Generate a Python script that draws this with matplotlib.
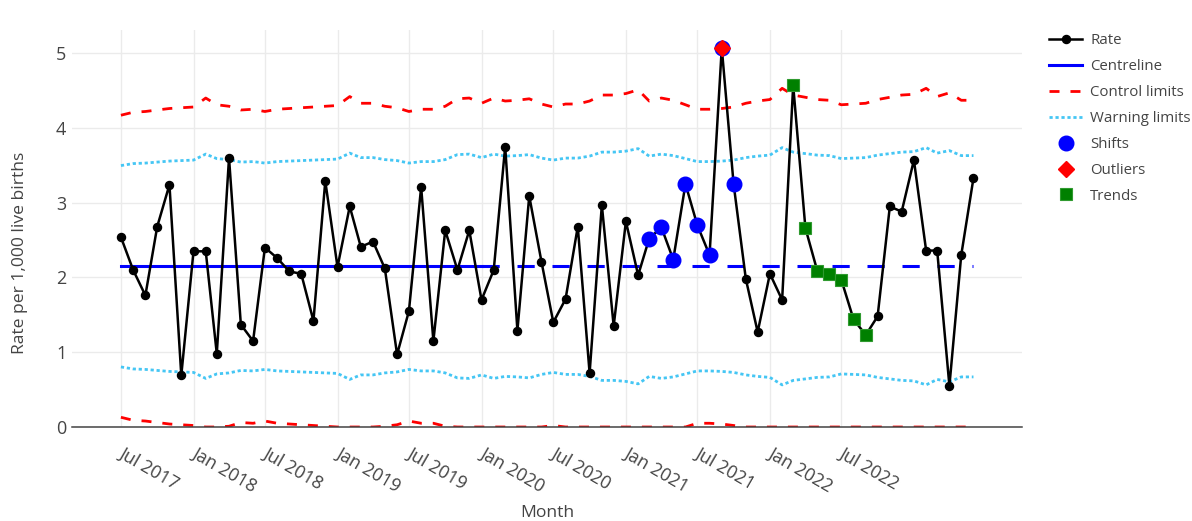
import pandas as pd
import matplotlib
matplotlib.use("Agg")
from matplotlib import pyplot as plt
from matplotlib import dates as mpl_dates
from matplotlib import transforms as mtransforms
from matplotlib.lines import Line2D

plt.rcParams["font.family"] = ["Open Sans", "DejaVu Sans"]
plt.rcParams["lines.scale_dashes"] = False

# monthly rate per 1,000 live births, Jul 2017 - Jun 2023
rate = [2.54, 2.10, 1.76, 2.68, 3.24, 0.69,
        2.35, 2.35, 0.98, 3.60, 1.37, 1.15, 2.40, 2.26, 2.08, 2.05, 1.42, 3.29,
        2.14, 2.95, 2.41, 2.48, 2.12, 0.97, 1.55, 3.21, 1.15, 2.63, 2.10, 2.63,
        1.70, 2.10, 3.75, 1.29, 3.09, 2.21, 1.40, 1.71, 2.68, 0.72, 2.97, 1.35,
        2.75, 2.03, 2.52, 2.67, 2.24, 3.25, 2.70, 2.30, 5.07, 3.25, 1.98, 1.27,
        2.05, 1.70, 4.57, 2.66, 2.09, 2.05, 1.97, 1.44, 1.23, 1.48, 2.95, 2.88,
        3.57, 2.36, 2.36, 0.55, 2.30, 3.33]

# upper control limit for each month (3 sigma)
upper_cl = [4.17, 4.21, 4.22, 4.24, 4.26, 4.27,
            4.28, 4.40, 4.31, 4.29, 4.24, 4.25, 4.22, 4.25, 4.26, 4.27, 4.28, 4.29,
            4.30, 4.42, 4.33, 4.33, 4.29, 4.27, 4.22, 4.25, 4.25, 4.29, 4.39, 4.40,
            4.33, 4.40, 4.36, 4.37, 4.39, 4.32, 4.28, 4.32, 4.32, 4.36, 4.44, 4.44,
            4.46, 4.51, 4.36, 4.40, 4.37, 4.31, 4.25, 4.25, 4.26, 4.28, 4.33, 4.36,
            4.38, 4.53, 4.44, 4.41, 4.38, 4.37, 4.31, 4.32, 4.33, 4.38, 4.41, 4.44,
            4.45, 4.53, 4.42, 4.47, 4.37, 4.37]

centre = 2.15
baseline_end = "2020-01"

shift_months = ["2021-03", "2021-04", "2021-05", "2021-06",
                "2021-07", "2021-08", "2021-09", "2021-10"]
outlier_months = ["2021-09"]
trend_months = ["2022-03", "2022-04", "2022-05", "2022-06",
                "2022-07", "2022-08", "2022-09"]

tick_labels = ["Jul 2017", "Jan 2018", "Jul 2018", "Jan 2019", "Jul 2019", "Jan 2020",
               "Jul 2020", "Jan 2021", "Jul 2021", "Jan 2022", "Jul 2022"]

months = pd.date_range("2017-07-01", periods=len(rate), freq="MS")
df = pd.DataFrame({"rate": rate, "ucl": upper_cl}, index=months)
sigma = (df["ucl"] - centre) / 3
df["uwl"] = centre + 2 * sigma
df["lwl"] = centre - 2 * sigma
df["lcl"] = (centre - 3 * sigma).clip(lower=0)

base_end = pd.Timestamp(baseline_end)
base = df.loc[:base_end]
after = df.loc[base_end:]

shifts = df.loc[pd.to_datetime(shift_months)]
outliers = df.loc[pd.to_datetime(outlier_months)]
trends = df.loc[pd.to_datetime(trend_months)]

text_col = "#444444"
red_dash = (7.2, 7.9)
blue_dash = (12.4, 12.8)
dots = (2.3, 2.0)
cyan = "#45C6F4"

fig = plt.figure(figsize=(11.92, 5.21), dpi=100)
ax = fig.add_axes([72 / 1192, 94 / 521, 950 / 1192, 397 / 521])

ax.plot(df.index, df["ucl"], color="red", lw=2.0, dashes=red_dash, zorder=2)
ax.plot(df.index, df["lcl"], color="red", lw=2.0, dashes=red_dash, zorder=2)
ax.plot(df.index, df["uwl"], color=cyan, lw=2.0, dashes=dots, dash_capstyle="butt", zorder=2)
ax.plot(df.index, df["lwl"], color=cyan, lw=2.0, dashes=dots, dash_capstyle="butt", zorder=2)

ax.plot(base.index, [centre] * len(base), color="blue", lw=2.2, zorder=3)
ax.plot(after.index, [centre] * len(after), color="blue", lw=2.2,
        dashes=blue_dash, dash_capstyle="butt", zorder=3)

ax.plot(df.index, df["rate"], color="black", lw=1.8, marker="o", ms=5.8, zorder=4)

ax.plot(shifts.index, shifts["rate"], ls="none", marker="o", ms=10.5,
        color="blue", zorder=5)
ax.plot(outliers.index, outliers["rate"], ls="none", marker="D", ms=8.5,
        color="red", zorder=6)
ax.plot(trends.index, trends["rate"], ls="none", marker="s", ms=9.3,
        color="green", mec="#2f9a2f", mew=0.8, zorder=7)

ax.set_xlim(pd.Timestamp("2017-02-27"), pd.Timestamp("2023-10-02"))
ax.set_ylim(0, 5.31)

ax.set_xticks(pd.to_datetime(tick_labels, format="%b %Y"))
ax.xaxis.set_major_formatter(mpl_dates.DateFormatter("%b %Y"))
ax.set_yticks([0, 1, 2, 3, 4, 5])
ax.tick_params(axis="both", length=0, labelsize=13, labelcolor=text_col)
ax.tick_params(axis="x", pad=12.5)
ax.tick_params(axis="y", pad=4)
nudge = mtransforms.ScaledTranslation(4 / 100, 0, fig.dpi_scale_trans)
for lab in ax.get_xticklabels():
    lab.set_rotation(-30)
    lab.set_ha("left")
    lab.set_va("top")
    lab.set_rotation_mode("anchor")
    lab.set_transform(lab.get_transform() + nudge)

ax.grid(True, color="#ebebeb", lw=1.0)
ax.set_axisbelow(True)
for side in ["top", "right", "left"]:
    ax.spines[side].set_visible(False)
ax.spines["bottom"].set_color(text_col)
ax.spines["bottom"].set_linewidth(1.1)

fig.text(547 / 1192, 1 - 513 / 521, "Month", ha="center", va="center",
         fontsize=12.6, color=text_col)
fig.text(20 / 1192, 1 - 253 / 521, "Rate per 1,000 live births", ha="center",
         va="center", rotation=90, fontsize=12.6, color=text_col)

handles = [
    Line2D([], [], color="black", lw=1.8, marker="o", ms=5.8),
    Line2D([], [], color="blue", lw=2.2),
    Line2D([], [], color="red", lw=2.0, dashes=red_dash),
    Line2D([], [], color=cyan, lw=2.0, dashes=dots, dash_capstyle="butt"),
    Line2D([], [], ls="none", color="blue", marker="o", ms=10.5),
    Line2D([], [], ls="none", color="red", marker="D", ms=8.5),
    Line2D([], [], ls="none", color="green", marker="s", ms=9, mec="#2f9a2f", mew=0.8),
]
labels = ["Rate", "Centreline", "Control limits", "Warning limits",
          "Shifts", "Outliers", "Trends"]
leg = fig.legend(handles, labels, loc="upper left",
                 bbox_to_anchor=(1049 / 1192, 1 - 33 / 521),
                 frameon=False, fontsize=10.8, borderpad=0, borderaxespad=0,
                 handlelength=2.2, handletextpad=0.55, labelspacing=0.73,
                 numpoints=1)
for t in leg.get_texts():
    t.set_color(text_col)

fig.savefig("out.png", dpi=100)
